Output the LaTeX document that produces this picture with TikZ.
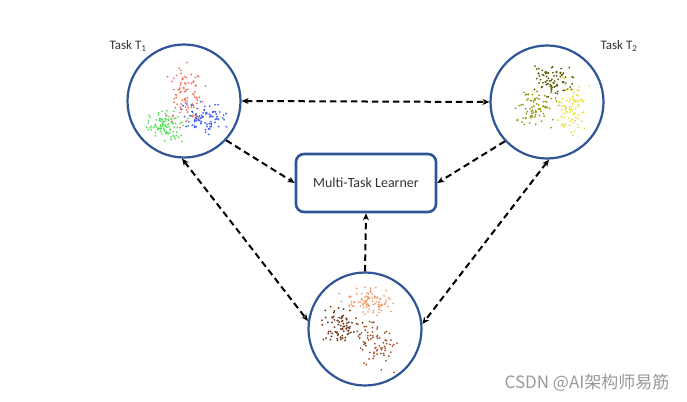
\documentclass[tikz,border=0pt]{standalone}
\usepackage{fontspec}
\setmainfont{Carlito}
\newfontfamily\cjk{Noto Sans CJK SC}
\usetikzlibrary{arrows.meta}
\definecolor{cblue}{HTML}{2F5597}
\definecolor{dred}{HTML}{F0705A}
\definecolor{dgreen}{HTML}{55E055}
\definecolor{dblue}{HTML}{4060F0}
\definecolor{dolive}{HTML}{5A5A00}
\definecolor{dolive2}{HTML}{9A9A10}
\definecolor{dyellow}{HTML}{E6E040}
\definecolor{dorange}{HTML}{F0A070}
\definecolor{dbrown}{HTML}{6A3010}
\definecolor{dbrown2}{HTML}{A0502A}
\newcommand\dotcluster[6]{%
  \foreach \i in {1,...,#5}{%
    \pgfmathsetmacro\px{#1+#3*(rand+rand+rand)/1.5}%
    \pgfmathsetmacro\py{#2+#4*(rand+rand+rand)/1.5}%
    \fill[#6] (\px,\py) circle (1pt);}}
\begin{document}
\begin{tikzpicture}[x=1pt,y=-1pt,
  taskc/.style={circle,draw=cblue,line width=2.2pt,minimum size=113pt,inner sep=0pt},
  learner/.style={draw=cblue,line width=2.6pt,rounded corners=8pt,minimum width=140pt,minimum height=58pt,font=\fontsize{14}{16}\selectfont,text=black!80},
  conn/.style={line width=2pt,dash pattern=on 6.5pt off 4pt},
  tip/.style={-{Stealth[length=7pt,width=6pt]}},
  bitip/.style={{Stealth[length=7pt,width=6pt]}-{Stealth[length=7pt,width=6pt]}},
  lab/.style={font=\fontsize{13}{15}\selectfont,text=black!80}]
\useasboundingbox (0,0) rectangle (687,401);
\pgfmathsetseed{7}
% scatter clusters
\dotcluster{185}{93}{13}{21}{90}{dred}
\dotcluster{167}{124}{14}{11}{100}{dgreen}
\dotcluster{204}{119}{16}{11}{90}{dblue}
\dotcluster{552}{78}{16}{12}{80}{dolive}
\dotcluster{573}{107}{11}{17}{90}{dyellow}
\dotcluster{535}{110}{14}{13}{80}{dolive2}
\dotcluster{370}{302}{17}{10}{100}{dorange}
\dotcluster{340}{326}{13}{13}{80}{dbrown}
\dotcluster{375}{345}{13}{15}{75}{dbrown2}
% nodes
\node[taskc] (t1) at (184,101) {};
\node[taskc] (t2) at (547,102) {};
\node[taskc] (t3) at (365,329) {};
\node[learner] (ml) at (366,183) {Multi-Task Learner};
\node[lab] (l1) at (128,46) {Task T\textsubscript{1}};
\node[lab] (l2) at (619,46) {Task T\textsubscript{2}};
\node[text=black!40,font=\cjk\fontsize{17}{19}\selectfont] (wm) at (587,383) {CSDN @AI架构师易筋};
% connectors
\draw[conn,bitip] (t1.east) -- (t2.west);
\draw[conn,tip] (t1.-43) -- (ml.west);
\draw[conn,tip] (t2.-137) -- (ml.east);
\draw[conn,tip] (t3.north) -- (ml.south);
\draw[conn,bitip] (t1.-92) -- (t3.172);
\draw[conn,bitip] (t2.-88) -- (t3.5);
\end{tikzpicture}
\end{document}
